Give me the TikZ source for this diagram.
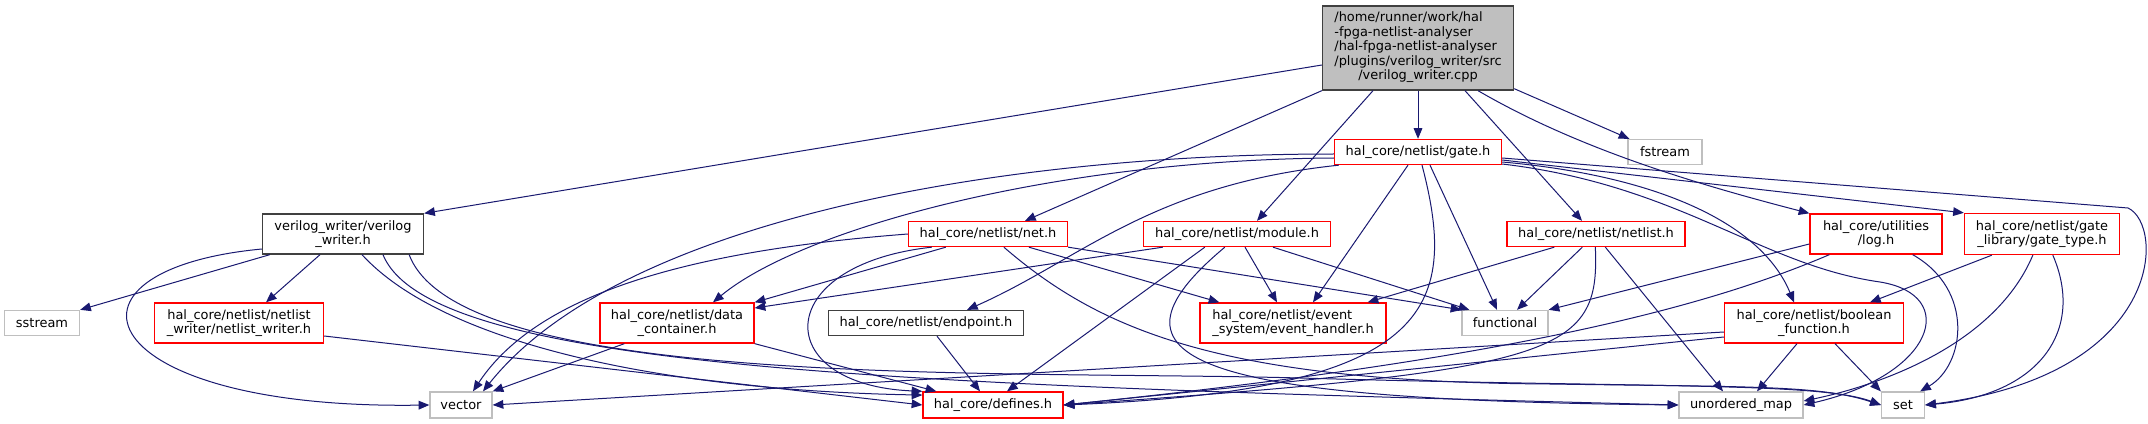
\documentclass[tikz,border=0pt]{standalone}
\usepackage{fontspec}
\setmainfont{DejaVu Sans}
\usetikzlibrary{arrows.meta, calc}
\definecolor{edgeblue}{HTML}{191970}
\definecolor{incred}{HTML}{FF0000}
\definecolor{sysgray}{HTML}{BFBFBF}
\definecolor{framegray}{HTML}{404040}
\newcommand{\dgfont}{\fontsize{9.7}{10.9}\selectfont}

\begin{document}
\begin{tikzpicture}[
        x=0.75pt, y=-0.75pt,
        file/.style={rectangle, inner sep=0pt, line width=1pt, fill=white,
                     font=\dgfont, align=center, minimum height=18.75pt},
        redbox/.style={file, draw=incred},
        sysbox/.style={file, draw=sysgray},
        blkbox/.style={file, draw=framegray},
        bw/.style={minimum width=#1*0.75pt},
        bh/.style={minimum height=#1*0.75pt},
        dep/.style={-{Triangle[length=8pt, width=6.5pt]}, line width=0.75pt, edgeblue},
    ]
        \fill[white] (0,0) rectangle (2148,424);
        \useasboundingbox (0,0) rectangle (2148,424);

        \node[blkbox, bw=191, bh=84, fill=sysgray] (root) at (1418,48)
            {\begin{tabular}{@{}l@{}}/home/runner/work/hal\\-fpga-netlist-analyser\\/hal-fpga-netlist-analyser\\/plugins/verilog\_writer/src\\\multicolumn{1}{@{}c@{}}{/verilog\_writer.cpp}\end{tabular}};
        \node[blkbox, bw=161, bh=40] (vwh)      at (343,234)  {verilog\_writer/verilog\\\_writer.h};
        \node[sysbox, bw=75]         (sstream)  at (42,323)   {sstream};
        \node[redbox, bw=169, bh=40] (nlw)      at (239,323)  {hal\_core/netlist/netlist\\\_writer/netlist\_writer.h};
        \node[sysbox, bw=62, bh=26]  (vector)   at (461,405)  {vector};
        \node[redbox, bw=154, bh=40] (dc)       at (677,323)  {hal\_core/netlist/data\\\_container.h};
        \node[redbox, bw=159]        (net)      at (988,234)  {hal\_core/netlist/net.h};
        \node[redbox, bw=187]        (module)   at (1237,234) {hal\_core/netlist/module.h};
        \node[blkbox, bw=195]        (endpoint) at (926,323)  {hal\_core/netlist/endpoint.h};
        \node[redbox, bw=186, bh=40, align=left] (eh) at (1293,323) {hal\_core/netlist/event\\\_system/event\_handler.h};
        \node[redbox, bw=140, bh=26] (defines)  at (993,405)  {hal\_core/defines.h};
        \node[redbox, bw=167]        (gate)     at (1418,152) {hal\_core/netlist/gate.h};
        \node[sysbox, bw=74]         (fstream)  at (1665,152) {fstream};
        \node[redbox, bw=178]        (netlist)  at (1596,234) {hal\_core/netlist/netlist.h};
        \node[sysbox, bw=86]         (functional) at (1505,323) {functional};
        \node[redbox, bw=132, bh=40] (log)      at (1876,234) {hal\_core/utilities\\/log.h};
        \node[redbox, bw=155, bh=41] (gatetype) at (2042,234) {hal\_core/netlist/gate\\\_library/gate\_type.h};
        \node[redbox, bw=179, bh=40] (bf)       at (1814,323) {hal\_core/netlist/boolean\\\_function.h};
        \node[sysbox, bw=124, bh=26] (umap)     at (1741,405) {unordered\_map};
        \node[sysbox, bw=43, bh=26]  (set)      at (1903,405) {set};

        % verilog_writer.cpp
        \draw[dep] ($(root.west)+(0,17)$) -- (vwh.north east);
        \draw[dep] (root.south west) -- ($(net.north)+(37,0)$);
        \draw[dep] ($(root.south)+(-45,0)$) -- ($(module.north)+(20,0)$);
        \draw[dep] (root) -- (gate);
        \draw[dep] ($(root.south)+(47,0)$) -- ($(netlist.north)+(-14,0)$);
        \draw[dep] ($(root.south)+(60,0)$) .. controls (1580,150) and (1700,185) .. (log.north west);
        \draw[dep] ($(root.south east)+(0,-2)$) -- ($(fstream.north west)+(2,0)$);

        % verilog_writer.h
        \draw[dep] ($(vwh.south west)+(8,0)$) -- (sstream.north east);
        \draw[dep] ($(vwh.west)+(0,15)$) .. controls (40,270) and (90,410) .. (vector.west);
        \draw[dep] ($(vwh.south)+(-23,0)$) -- ($(nlw.north)+(27,0)$);
        \draw[dep] ($(vwh.south)+(19,0)$) .. controls (440,340) and (650,390) .. (defines.172);
        \draw[dep] ($(vwh.south)+(40,0)$) .. controls (430,370) and (900,385) .. (umap.west);
        \draw[dep] ($(vwh.south east)+(-15,0)$) .. controls (460,390) and (1000,370) .. (1300,378)
                   .. controls (1650,388) and (1820,382) .. (set.west);

        \draw[dep] ($(nlw.east)+(0,13)$) -- (defines.west);

        \draw[dep] ($(dc.south west)+(25,0)$) -- (vector.north east);
        \draw[dep] (dc.south east) -- ($(defines.north west)+(14,0)$);

        % net.h
        \draw[dep] (net.west) .. controls (700,250) and (540,290) .. ($(vector.north)+(12,0)$);
        \draw[dep] ($(net.south west)+(38,0)$) -- (dc.north east);
        \draw[dep] ($(net.south west)+(24,0)$) .. controls (770,265) and (770,385) .. (defines.north west);
        \draw[dep] ($(net.south west)+(96,0)$) .. controls (1100,330) and (1220,382) .. (1550,384)
                   .. controls (1750,387) and (1820,385) .. (set.west);
        \draw[dep] ($(net.south west)+(121,0)$) -- ($(eh.north west)+(20,0)$);
        \draw[dep] (net.south east) -- (functional.north west);

        % module.h
        \draw[dep] ($(module.south west)+(20,0)$) -- ($(dc.east)+(0,-15)$);
        \draw[dep] ($(module.south west)+(62,0)$) -- ($(defines.north)+(14,0)$);
        \draw[dep] ($(module.south west)+(82,0)$) .. controls (1090,360) and (1190,400) .. (umap.west);
        \draw[dep] ($(module.south)+(8,0)$) -- ($(eh.north)+(-16,0)$);
        \draw[dep] ($(module.south)+(36,0)$) -- ($(functional.north west)+(8,0)$);

        \draw[dep] ($(endpoint.south)+(11,0)$) -- ($(defines.north)+(-13,0)$);

        % gate.h
        \draw[dep] ($(gate.west)+(0,2)$) .. controls (1000,154) and (620,220) .. ($(vector.north)+(22,0)$);
        \draw[dep] ($(gate.west)+(0,6)$) .. controls (1050,160) and (800,230) .. ($(dc.north)+(36,0)$);
        \draw[dep] ($(gate.south west)+(5,0)$) .. controls (1150,185) and (1080,260) .. ($(endpoint.north)+(41,0)$);
        \draw[dep] ($(gate.south)+(-10,0)$) -- ($(eh.north)+(20,0)$);
        \draw[dep] ($(gate.south)+(4,0)$) .. controls (1460,310) and (1430,390) .. (defines.east);
        \draw[dep] ($(gate.south)+(12,0)$) -- ($(functional.north)+(-8,0)$);
        \draw[dep] ($(gate.east)+(0,6)$) -- (2128,208) .. controls (2165,225) and (2165,375) .. (set.east);
        \draw[dep] ($(gate.east)+(0,8)$) -- (gatetype.north west);
        \draw[dep] ($(gate.east)+(0,10)$) .. controls (1650,175) and (1760,220) .. ($(bf.north)+(-20,0)$);
        \draw[dep] ($(gate.east)+(0,12)$) .. controls (1680,185) and (1760,265) .. (1880,282)
                   .. controls (1960,295) and (1935,375) .. (umap.east);

        % netlist.h
        \draw[dep] ($(netlist.south west)+(48,0)$) -- ($(eh.north east)+(-19,0)$);
        \draw[dep] ($(netlist.south west)+(76,0)$) -- ($(functional.north)+(12,0)$);
        \draw[dep] ($(netlist.south west)+(89,0)$) .. controls (1600,355) and (1560,370) .. (defines.east);
        \draw[dep] ($(netlist.south west)+(99,0)$) -- ($(umap.north)+(-18,0)$);

        % log.h
        \draw[dep] ($(log.west)+(0,10)$) -- (functional.north east);
        \draw[dep] ($(log.south west)+(20,0)$) .. controls (1700,310) and (1500,360) .. (defines.east);
        \draw[dep] ($(log.south east)+(-30,0)$) .. controls (1975,290) and (1965,365) .. ($(set.north east)+(-5,0)$);

        % gate_type.h
        \draw[dep] ($(gatetype.south west)+(28,0)$) -- ($(bf.north)+(56,0)$);
        \draw[dep] ($(gatetype.south west)+(69,0)$) .. controls (1995,345) and (1880,385) .. ($(umap.east)+(0,-4)$);
        \draw[dep] ($(gatetype.south west)+(89,0)$) .. controls (2085,330) and (2040,395) .. (set.east);

        % boolean_function.h
        \draw[dep] ($(bf.west)+(0,9)$) -- (vector.east);
        \draw[dep] ($(bf.west)+(0,14)$) -- (defines.east);
        \draw[dep] ($(bf.south)+(-17,0)$) -- ($(umap.north)+(16,0)$);
        \draw[dep] ($(bf.south)+(21,0)$) -- (set.north west);
    \end{tikzpicture}
\end{document}
